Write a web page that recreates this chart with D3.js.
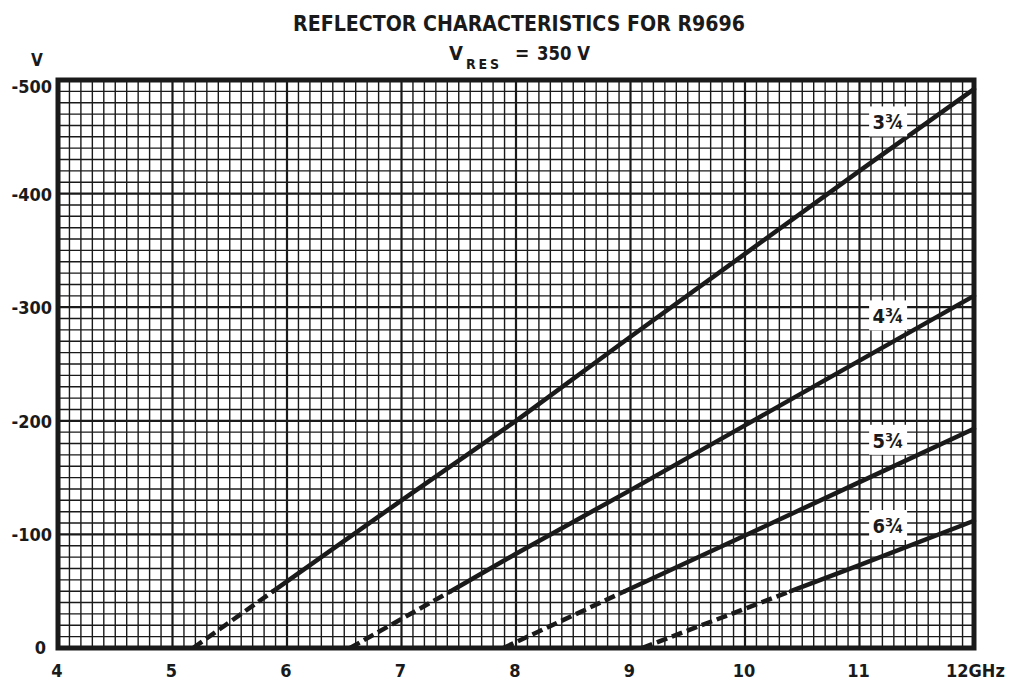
<!DOCTYPE html>
<html>
<head>
<meta charset="utf-8">
<script src="https://cdn.jsdelivr.net/npm/d3@7"></script>
<style>
  html, body { margin: 0; padding: 0; background: #fff; }
  svg { display: block; }
  text { fill: #1a1a1a; }
</style>
</head>
<body>
<svg id="chart" width="1010" height="684"></svg>
<script>
// Reflector voltage versus frequency for each reflex mode (repeller voltages are negative)
const modeNames = ["3¾", "4¾", "5¾", "6¾"];
const mode3 = [[5.18, 0], [5.88, -50], [7, -130], [8, -200], [9, -274], [10, -347], [11, -420], [12, -492]];
const mode4 = [[6.55, 0], [7.43, -50], [8, -83], [9, -139], [10, -196], [11, -253], [12, -310]];
const mode5 = [[7.89, 0], [8.95, -50], [10, -99], [11, -146], [12, -193]];
const mode6 = [[9.1, 0], [10.4, -50], [11, -73], [12, -112]];
const modes = [mode3, mode4, mode5, mode6];
// Below this voltage the mode is drawn dashed
const dashedBelow = -50;

const xTicks = [4, 5, 6, 7, 8, 9, 10, 11, 12];
const xTickLabels = ["4", "5", "6", "7", "8", "9", "10", "11", "12GHz"];
const yTicks = [0, -100, -200, -300, -400, -500];
const yTickLabels = ["0", "-100", "-200", "-300", "-400", "-500"];

const titleText = "REFLECTOR CHARACTERISTICS FOR R9696";
const ink = "#1a1a1a";
const font = "'DejaVu Sans Condensed', 'Liberation Sans', sans-serif";

const svg = d3.select("#chart");
const plot = { left: 58, right: 974, top: 80, bottom: 648 };

const x = d3.scaleLinear().domain([4, 12]).range([plot.left, plot.right]);
const y = d3.scaleLinear().domain([0, -500]).range([plot.bottom, plot.top]);

// Graph-paper grid: minor every 0.1 GHz / 10 V, major every 1 GHz / 100 V
const grid = svg.append("g");
const minorX = d3.range(40, 121).map(d => d / 10);
const minorY = d3.range(0, 51).map(d => -d * 10);

grid.selectAll("line.vx").data(minorX).join("line")
  .attr("x1", d => x(d)).attr("x2", d => x(d))
  .attr("y1", plot.top).attr("y2", plot.bottom)
  .attr("stroke", ink)
  .attr("stroke-width", d => Math.abs(d - Math.round(d)) < 1e-6 ? 2.2 : 1.4);

grid.selectAll("line.hy").data(minorY).join("line")
  .attr("y1", d => y(d)).attr("y2", d => y(d))
  .attr("x1", plot.left).attr("x2", plot.right)
  .attr("stroke", ink)
  .attr("stroke-width", d => d % 100 === 0 ? 2.2 : 1.4);

// Heavy frame
svg.append("rect")
  .attr("x", plot.left).attr("y", plot.top)
  .attr("width", plot.right - plot.left).attr("height", plot.bottom - plot.top)
  .attr("fill", "none").attr("stroke", ink).attr("stroke-width", 5);

// Mode curves: dashed near zero volts, solid beyond
const line = d3.line().x(d => x(d[0])).y(d => y(d[1]));
const curves = svg.append("g");
modes.forEach(pts => {
  const k = pts.findIndex(p => p[1] <= dashedBelow);
  const dashed = pts.slice(0, k + 1);
  const solid = pts.slice(k);
  curves.append("path").attr("d", line(dashed))
    .attr("fill", "none").attr("stroke", ink).attr("stroke-width", 4.5)
    .attr("stroke-dasharray", "11,5").attr("stroke-linecap", "butt");
  curves.append("path").attr("d", line(solid))
    .attr("fill", "none").attr("stroke", ink).attr("stroke-width", 4.5)
    .attr("stroke-linecap", "round");
});

// Mode labels on white patches above each curve
const labelFreq = 11.25;
function valueAt(pts, f) {
  for (let i = 1; i < pts.length; i++) {
    if (f <= pts[i][0]) {
      const t = (f - pts[i - 1][0]) / (pts[i][0] - pts[i - 1][0]);
      return pts[i - 1][1] + t * (pts[i][1] - pts[i - 1][1]);
    }
  }
  return pts[pts.length - 1][1];
}
const labels = svg.append("g");
modes.forEach((pts, i) => {
  const cx = x(labelFreq);
  const cy = y(valueAt(pts, labelFreq)) - 29;
  labels.append("rect")
    .attr("x", cx - 19).attr("y", cy - 15).attr("width", 38).attr("height", 30)
    .attr("fill", "#fff");
  labels.append("text")
    .attr("x", cx).attr("y", cy + 8)
    .attr("text-anchor", "middle")
    .attr("font-family", font).attr("font-size", 20).attr("font-weight", 600)
    .text(modeNames[i]);
});

// Axis tick labels
const xLab = svg.append("g");
xTicks.forEach((t, i) => {
  const last = i === xTicks.length - 1;
  xLab.append("text")
    .attr("x", last ? x(t) - 28 : x(t) - 1)
    .attr("y", 677)
    .attr("text-anchor", last ? "start" : "middle")
    .attr("font-family", font).attr("font-size", 18).attr("font-weight", 600)
    .text(xTickLabels[i]);
});

const yLab = svg.append("g");
yTicks.forEach((t, i) => {
  const shift = t === 0 ? 6 : (t === -500 ? 13 : 7);
  yLab.append("text")
    .attr("x", t === 0 ? 46 : 52)
    .attr("y", y(t) + shift)
    .attr("text-anchor", "end")
    .attr("font-family", font).attr("font-size", 18).attr("font-weight", 600)
    .text(yTickLabels[i]);
});

svg.append("text")
  .attr("x", 37).attr("y", 66)
  .attr("text-anchor", "middle")
  .attr("font-family", font).attr("font-size", 17).attr("font-weight", 600)
  .text("V");

// Title and operating condition
svg.append("text")
  .attr("x", 519).attr("y", 31)
  .attr("text-anchor", "middle")
  .attr("font-family", font).attr("font-size", 21).attr("font-weight", 700)
  .attr("textLength", 452).attr("lengthAdjust", "spacingAndGlyphs")
  .text(titleText);

const sub = svg.append("g")
  .attr("font-family", font).attr("font-weight", 700);
sub.append("text").attr("x", 449).attr("y", 60).attr("font-size", 20).text("V");
sub.append("text").attr("x", 466).attr("y", 69).attr("font-size", 14)
  .attr("textLength", 33).attr("lengthAdjust", "spacing").text("RES");
sub.append("text").attr("x", 515).attr("y", 60).attr("font-size", 19).text("=");
sub.append("text").attr("x", 537).attr("y", 60).attr("font-size", 20)
  .attr("textLength", 53).attr("lengthAdjust", "spacingAndGlyphs").text("350 V");
</script>
</body>
</html>
